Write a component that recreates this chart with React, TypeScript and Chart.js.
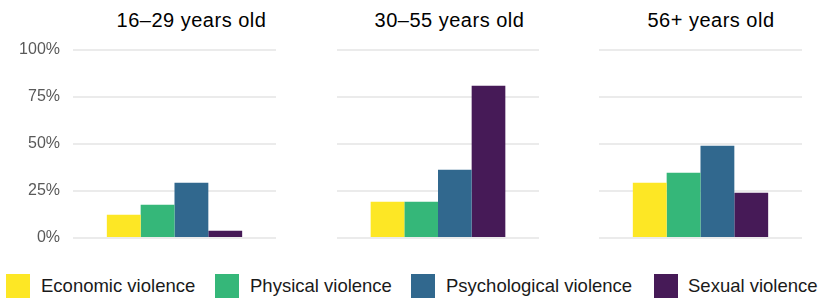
import React, { useEffect, useRef } from "react";
import { Chart, registerables } from "chart.js";

Chart.register(...registerables);

const ageGroups = ["16–29 years old", "30–55 years old", "56+ years old"];
const seriesNames = ["Economic violence", "Physical violence", "Psychological violence", "Sexual violence"];
const economic = [12.4, 19.3, 29.4];
const physical = [17.7, 19.3, 34.7];
const psychological = [29.4, 36.3, 49.1];
const sexual = [3.9, 81.0, 24.1];
const yTicks = [0, 25, 50, 75, 100];

const seriesValues = [economic, physical, psychological, sexual];
const colors = ["#fde725", "#35b779", "#31688e", "#461a57"];
const FONT = "'Liberation Sans', Arial, Helvetica, sans-serif";

// panel layout: canvas left, canvas width, padding left, padding right, y-axis width, show labels
const panels = [
  { left: 0, width: 280, padL: 0, padR: 4, axisW: 73, labels: true, titleX: 191.5 },
  { left: 330, width: 215, padL: 7, padR: 6, axisW: 0, labels: false, titleX: 449.5 },
  { left: 592, width: 215, padL: 7, padR: 5, axisW: 0, labels: false, titleX: 711 },
];
const legendPos = [
  { sq: 6, tx: 41 },
  { sq: 215, tx: 250 },
  { sq: 411, tx: 446 },
  { sq: 654, tx: 688 },
];

function Panel({ idx }: { idx: number }) {
  const ref = useRef<HTMLCanvasElement>(null);
  const p = panels[idx];
  useEffect(() => {
    if (!ref.current) return;
    const chart = new Chart(ref.current, {
      type: "bar",
      data: {
        labels: [ageGroups[idx]],
        datasets: seriesNames.map((name, s) => ({
          label: name,
          data: [seriesValues[s][idx]],
          backgroundColor: colors[s],
          borderWidth: 0,
          categoryPercentage: 4 / 6,
          barPercentage: 1.0,
        })),
      },
      options: {
        animation: false,
        responsive: false,
        maintainAspectRatio: false,
        layout: { padding: { top: 10, bottom: 12, left: p.padL, right: p.padR } },
        plugins: { legend: { display: false }, tooltip: { enabled: false }, title: { display: false } },
        scales: {
          x: { type: "category", display: false, grid: { display: false } },
          y: {
            min: 0,
            max: 100,
            afterFit: (scale: any) => {
              scale.width = p.axisW;
              scale.paddingTop = 0;
              scale.paddingBottom = 0;
            },
            afterBuildTicks: (scale: any) => {
              scale.ticks = yTicks.map((v) => ({ value: v }));
            },
            border: { display: false },
            grid: { color: "#ebebeb", lineWidth: 2, drawTicks: false },
            ticks: {
              display: p.labels,
              padding: 13,
              color: "#595959",
              font: { family: FONT, size: 16 },
              callback: (v: any) => v + "%",
            },
          },
        },
      },
    });
    return () => chart.destroy();
  }, [idx]);
  return (
    <canvas
      ref={ref}
      width={p.width}
      height={210}
      style={{ position: "absolute", left: p.left, top: 40, width: p.width, height: 210 }}
    />
  );
}

export default function App() {
  return (
    <div style={{ position: "absolute", left: 0, top: 0, width: 821, height: 298, background: "#fff", fontFamily: FONT, overflow: "hidden" }}>
      {ageGroups.map((g, i) => (
        <div
          key={g}
          style={{
            position: "absolute",
            left: panels[i].titleX - 150,
            width: 300,
            top: 8,
            textAlign: "center",
            fontSize: 20,
            letterSpacing: "0.5px",
            lineHeight: "24px",
            color: "#000",
          }}
        >
          {g}
        </div>
      ))}
      {panels.map((_, i) => (
        <Panel key={i} idx={i} />
      ))}
      {seriesNames.map((name, s) => (
        <React.Fragment key={name}>
          <div style={{ position: "absolute", left: legendPos[s].sq, top: 274, width: 24, height: 24, background: colors[s] }} />
          <div
            style={{
              position: "absolute",
              left: legendPos[s].tx,
              top: 274,
              fontSize: 18.5,
              lineHeight: "24px",
              color: "#1a1a1a",
              whiteSpace: "nowrap",
            }}
          >
            {name}
          </div>
        </React.Fragment>
      ))}
    </div>
  );
}
